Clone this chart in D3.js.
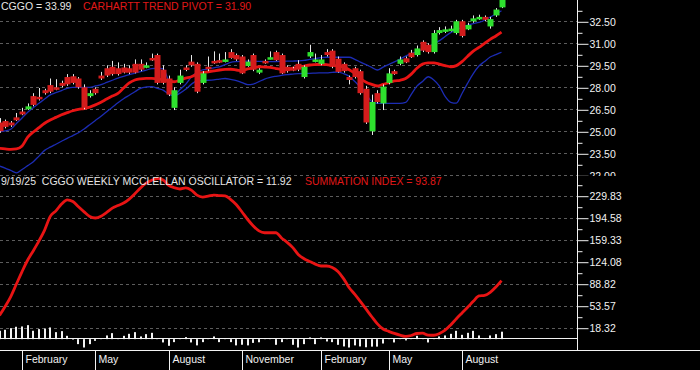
<!DOCTYPE html>
<html>
<head>
<meta charset="utf-8">
<script src="https://cdn.jsdelivr.net/npm/d3@7"></script>
<style>
  body { margin: 0; background: #000; }
  svg { display: block; }
  text { font-family: "Liberation Sans", Arial, sans-serif; font-size: 10.5px; }
</style>
</head>
<body>
<div id="chart"></div>
<script>
"use strict";

// weekly bars, first week is 1/5/24, last is 9/19/25
var firstWeek = "2024-01-05";
var weekCount = 90;

// candles
var openV = [25.6,25.7,25.6,25.95,26.35,26.5,27.4,27.35,27.8,28.15,
             28.0,28.3,28.7,28.75,28.6,28.0,27.4,27.9,28.8,29.3,
             29.4,29.3,29.35,29.3,29.6,29.6,29.4,30.0,30.2,29.2,
             28.6,26.6,28.3,29.35,29.75,29.6,28.3,29.4,29.8,29.85,
             29.75,30.4,30.2,30.1,29.45,30.2,29.0,29.8,29.95,30.4,
             30.2,29.4,29.3,29.6,28.7,30.1,29.75,29.6,30.4,30.5,
             29.95,29.6,28.7,29.3,29.1,27.9,25.0,27.6,26.9,28.3,
             29.1,29.6,29.98,30.36,30.2,31.1,30.9,30.4,31.7,31.8,
             31.85,31.7,32.5,31.95,32.5,32.65,32.8,32.15,32.9,33.45];
var highV = [25.9,25.8,25.7,26.25,26.6,26.9,27.6,27.95,27.9,28.6,
             28.55,28.45,28.9,28.9,28.7,28.2,27.8,28.0,29.05,29.5,
             29.8,29.7,29.6,29.5,29.9,29.9,29.7,30.3,30.3,29.5,
             28.8,28.0,29.2,29.5,30.2,29.7,29.1,30.1,30.45,30.3,
             30.4,30.6,30.3,30.2,29.9,30.3,29.3,29.9,30.45,30.5,
             30.3,29.5,29.4,29.85,29.5,30.9,30.3,30.2,30.6,30.6,
             30.1,29.7,28.8,29.4,29.2,28.1,27.5,27.8,28.2,29.3,
             29.2,30.1,30.1,30.55,30.85,31.2,31.0,31.9,32.1,32.15,
             32.2,32.6,32.6,32.4,32.9,32.95,32.9,32.8,33.4,34.05];
var lowV = [24.9,25.2,25.3,25.7,26.1,26.45,26.7,27.1,27.5,27.6,
            27.8,28.0,28.1,28.2,27.9,26.5,27.3,27.5,28.5,28.7,
            28.8,28.8,28.95,28.9,28.95,29.1,29.3,29.8,28.2,28.2,
            27.4,26.45,28.2,29.1,29.4,27.6,28.2,29.1,29.6,29.65,
            29.7,29.95,29.8,28.9,29.4,29.1,28.9,29.6,29.9,29.8,
            28.9,29.0,29.1,29.1,28.6,30.0,29.7,29.5,30.1,29.3,
            29.0,29.0,28.2,28.6,27.5,25.5,24.75,26.9,26.45,28.2,
            28.85,29.5,29.65,30.0,30.1,30.4,30.3,30.3,31.6,31.7,
            31.8,31.6,31.4,31.9,32.4,32.6,32.5,32.0,32.8,33.4];
var closeV = [25.0,25.3,25.4,25.75,26.15,26.7,26.8,27.2,27.6,27.7,
              27.85,28.1,28.2,28.3,28.0,26.6,27.6,27.6,28.6,28.8,
              28.9,28.9,29.0,29.0,29.0,29.2,29.5,29.9,28.3,28.3,
              27.5,27.8,28.8,29.2,29.5,27.7,28.95,29.25,29.7,29.7,
              29.9,30.0,29.9,28.95,29.75,29.2,29.2,29.7,30.05,29.85,
              28.95,29.1,29.2,29.2,29.4,30.4,29.9,29.9,30.2,29.4,
              29.05,29.1,28.5,28.7,27.6,25.6,27.0,27.0,28.05,28.95,
              28.9,29.9,29.7,30.05,30.65,30.5,30.4,31.7,31.9,31.95,
              32.0,32.5,31.5,32.25,32.7,32.8,32.6,32.65,33.3,33.99];

// carhartt trend pivot (red) and the two blue bands
var pivotV = [23.84,23.8,23.77,23.8,24.0,24.6,24.95,25.25,25.55,25.77,
              25.95,26.13,26.27,26.4,26.5,26.55,26.65,26.8,26.98,27.2,
              27.4,27.58,27.95,28.3,28.5,28.58,28.61,28.61,28.58,28.52,
              28.45,28.38,28.5,28.62,28.72,28.9,29.0,29.06,29.12,29.18,
              29.22,29.23,29.18,29.13,29.25,29.32,29.4,29.38,29.36,29.28,
              29.23,29.23,29.3,29.38,29.45,29.52,29.55,29.57,29.55,29.5,
              29.45,29.38,29.2,28.95,28.6,28.35,28.2,28.09,28.2,28.32,
              28.44,28.48,28.6,28.9,29.3,29.58,29.66,29.67,29.58,29.48,
              29.4,29.48,29.75,30.12,30.47,30.72,31.0,31.27,31.5,31.76];
var upperV = [24.97,25.03,25.14,25.53,25.91,26.3,26.62,26.91,27.2,27.48,
              27.63,27.78,27.93,28.0,28.0,28.0,28.0,28.09,28.18,28.33,
              28.48,28.63,28.75,28.86,28.97,29.07,29.17,29.28,29.3,29.26,
              28.4,27.45,27.85,28.2,28.7,29.0,29.18,29.25,29.33,29.4,
              29.55,29.7,29.75,29.77,29.78,29.78,29.77,29.76,29.75,29.76,
              29.77,29.78,29.79,29.8,29.83,29.9,29.96,30.02,30.05,30.05,
              30.05,30.05,30.05,29.91,29.72,29.54,29.36,29.18,29.37,29.55,
              29.73,29.92,30.12,30.29,30.44,30.59,30.77,30.97,31.18,31.46,
              31.73,31.91,32.08,32.24,32.34,32.42,32.57,32.79,33.0,33.22];
var lowerV = [22.63,22.49,22.33,22.17,22.4,22.66,22.93,23.31,23.7,23.92,
              24.12,24.32,24.52,24.71,24.9,25.16,25.45,25.74,26.03,26.34,
              26.64,26.95,27.22,27.46,27.7,27.93,28.02,28.05,27.93,27.81,
              27.53,27.43,27.6,27.86,28.2,28.44,28.46,28.48,28.51,28.56,
              28.6,28.54,28.46,28.32,28.18,28.22,28.39,28.56,28.67,28.75,
              28.82,28.87,28.9,28.93,28.95,28.95,28.97,28.98,28.99,29.02,
              29.04,28.93,28.75,28.39,27.99,27.54,27.03,26.91,26.91,26.91,
              26.91,26.91,26.97,27.52,28.08,28.4,28.72,28.5,28.08,27.38,
              26.98,26.92,27.58,28.28,28.93,29.45,29.76,30.07,30.23,30.39];

// weekly mcclellan summation index and oscillator
var summationV = [37.9,52.3,68.3,88.3,108.2,126.8,141.7,157.4,174.7,196.7,
                  205.6,216.5,223.3,220.5,212.0,203.9,196.5,194.1,197.0,203.1,
                  210.0,214.1,218.0,224.4,232.9,242.3,249.9,254.5,257.4,255.0,
                  246.3,242.6,240.6,242.3,238.8,230.8,227.7,229.0,230.9,230.1,
                  229.5,223.6,215.4,203.7,191.7,181.3,173.4,170.5,170.5,170.5,
                  162.0,155.1,146.7,135.3,128.9,124.4,120.2,117.2,117.2,114.9,
                  108.4,97.0,82.3,71.7,60.0,48.0,35.9,24.4,16.2,12.5,
                  9.2,6.5,4.4,5.8,9.0,9.5,6.5,6.2,9.0,14.3,
                  22.8,32.7,41.9,51.0,60.6,69.3,70.2,75.0,83.5,93.87];
var oscillatorV = [13.4,15,17.6,19.8,20.3,22.4,13.4,16,17,18.7,
                   11.2,12.8,5.3,-0.8,-8,-13.4,-8,-2.7,1.6,5.9,
                   9.6,1.6,5.3,8.5,11.2,4.3,8,10.1,1.6,-5.3,
                   -10.7,-4.8,0.8,3.2,-5.3,-10,-4.8,0.5,4.3,-4.8,
                   1.6,-4.8,-10,-9,-10,-6,-5,0.3,1.6,-9.1,
                   -4.8,1.6,-9.1,-13.4,-8,2.7,-8,2.7,-3.7,-4.8,
                   -9.1,-11.7,-13.4,-10,-11.7,-13,-12,-12,-7,0.3,
                   -5.3,0.3,-2,0.3,5.3,0.3,-5.3,0.3,4.3,5.9,
                   8.5,13.3,6.9,10.1,13.3,5.9,0.3,5.9,8.0,11.92];

// axis ticks
var priceTicks = [22.00,23.50,25.00,26.50,28.00,29.50,31.00,32.50];
var priceMinor = [22.75,24.25,25.75,27.25,28.75,30.25,31.75,33.25];
var sumTicks = [18.32,53.57,88.82,124.08,159.33,194.58,229.83];
var sumMinor = [35.95,71.20,106.45,141.70,176.95,212.21,247.46];
var xTickDates = ["2024-02-02","2024-05-03","2024-08-02","2024-11-01","2025-02-07","2025-05-02","2025-08-01"];
var xTickLabels = ["February","May","August","November","February","May","August"];

var parseDate = d3.timeParse("%Y-%m-%d");
var weeks = d3.range(weekCount).map(function(i) { return d3.timeDay.offset(parseDate(firstWeek), 7 * i); });

var bars = weeks.map(function(d, i) {
  return {date: d, open: openV[i], high: highV[i], low: lowV[i], close: closeV[i],
          pivot: pivotV[i], upper: upperV[i], lower: lowerV[i],
          sum: summationV[i], osc: oscillatorV[i]};
});

// sizes
var width = 700, height = 370,
    axisX = 577.5,
    topEnd = 176,
    xAxisY = 350.5;

var svg = d3.select("#chart")
  .append("svg")
    .attr("width", width)
    .attr("height", height)
    .style("background", "#000");

var x = d3.scaleTime()
  .domain([weeks[0], weeks[weekCount - 1]])
  .range([-0.5, 501.5]);

var yTop = d3.scaleLinear().domain([22, 32.5]).range([175.3, 21.3]);
var yBot = d3.scaleLinear().domain([18.32, 229.83]).range([327.7, 195.7]);

var defs = svg.append("defs");
defs.append("clipPath").attr("id", "clipTop")
  .append("rect").attr("x", 0).attr("y", 0).attr("width", axisX).attr("height", topEnd);
defs.append("clipPath").attr("id", "clipBot")
  .append("rect").attr("x", 0).attr("y", topEnd).attr("width", axisX).attr("height", xAxisY - topEnd);
defs.append("clipPath").attr("id", "clipTopAxis")
  .append("rect").attr("x", axisX).attr("y", 0).attr("width", width - axisX).attr("height", topEnd);

var snap = function(v) { return Math.round(v) + 0.5; };

// ---------- top panel ----------
var pricePanel = svg.append("g").attr("clip-path", "url(#clipTop)");

pricePanel.selectAll(".grid")
  .data(priceTicks)
  .enter().append("line")
    .attr("x1", 0).attr("x2", axisX)
    .attr("y1", function(d) { return snap(yTop(d)); })
    .attr("y2", function(d) { return snap(yTop(d)); })
    .attr("stroke", "#5c5c5c")
    .attr("stroke-dasharray", "3,3");

var line = function(key, yScale) {
  return d3.line()
    .x(function(d) { return x(d.date); })
    .y(function(d) { return yScale(d[key]); })
    .curve(d3.curveMonotoneX);
};

pricePanel.append("path").datum(bars)
  .attr("fill", "none").attr("stroke", "#1c2cb4").attr("stroke-width", 1.3)
  .attr("d", line("lower", yTop));
pricePanel.append("path").datum(bars)
  .attr("fill", "none").attr("stroke", "#1c2cb4").attr("stroke-width", 1.3)
  .attr("d", line("upper", yTop));
pricePanel.append("path").datum(bars)
  .attr("fill", "none").attr("stroke", "#e81414").attr("stroke-width", 2.8)
  .attr("d", line("pivot", yTop));

var candle = pricePanel.selectAll(".candle")
  .data(bars)
  .enter().append("g");

candle.append("line")
  .attr("x1", function(d) { return Math.round(x(d.date)) + 0.5; })
  .attr("x2", function(d) { return Math.round(x(d.date)) + 0.5; })
  .attr("y1", function(d) { return yTop(d.high); })
  .attr("y2", function(d) { return yTop(d.low); })
  .attr("stroke", "#e8e8e8");

candle.append("rect")
  .attr("x", function(d) { return Math.round(x(d.date)) - 2.5; })
  .attr("width", 6)
  .attr("y", function(d) { return yTop(Math.max(d.open, d.close)); })
  .attr("height", function(d) { return Math.max(2.5, yTop(Math.min(d.open, d.close)) - yTop(Math.max(d.open, d.close))); })
  .attr("fill", function(d) { return d.close >= d.open ? "#2ee02e" : "#d41c1c"; });

svg.append("text")
  .attr("x", 1).attr("y", 9.5)
  .attr("fill", "#e6e6e6")
  .text("CGGO = 33.99");
svg.append("text")
  .attr("x", 83).attr("y", 9.5)
  .attr("fill", "#e01818")
  .text("CARHARTT TREND PIVOT = 31.90");

// ---------- bottom panel ----------
var oscPanel = svg.append("g").attr("clip-path", "url(#clipBot)");

oscPanel.selectAll(".grid")
  .data(sumTicks)
  .enter().append("line")
    .attr("x1", 0).attr("x2", axisX)
    .attr("y1", function(d) { return snap(yBot(d)); })
    .attr("y2", function(d) { return snap(yBot(d)); })
    .attr("stroke", "#5c5c5c")
    .attr("stroke-dasharray", "3,3");

oscPanel.selectAll(".osc")
  .data(bars)
  .enter().append("rect")
    .attr("x", function(d) { return Math.round(x(d.date)) - 1; })
    .attr("width", 2)
    .attr("y", function(d) { return Math.min(yBot(0), yBot(d.osc)); })
    .attr("height", function(d) { return Math.abs(yBot(d.osc) - yBot(0)); })
    .attr("fill", "#f2f2f2");

oscPanel.append("line")
  .attr("x1", 0).attr("x2", axisX)
  .attr("y1", snap(yBot(0)) - 1).attr("y2", snap(yBot(0)) - 1)
  .attr("stroke", "#f2f2f2");

oscPanel.append("path").datum(bars)
  .attr("fill", "none").attr("stroke", "#e81414").attr("stroke-width", 2.8)
  .attr("d", line("sum", yBot));

svg.append("text")
  .attr("x", 1).attr("y", 185)
  .attr("fill", "#e6e6e6")
  .text("9/19/25\u00a0\u00a0CGGO WEEKLY MCCLELLAN OSCILLATOR = 11.92");
svg.append("text")
  .attr("x", 305).attr("y", 185)
  .attr("fill", "#e01818")
  .text("SUMMATION INDEX = 93.87");

// ---------- right axes ----------
function styleAxis(g) {
  g.select(".domain").remove();
  g.selectAll(".tick line").attr("stroke", "#f2f2f2");
  g.selectAll(".tick text")
    .attr("fill", "#f2f2f2")
    .style("font-family", "\"Liberation Sans\", Arial, sans-serif")
    .style("font-size", "10.5px");
}

var priceAxis = svg.append("g").attr("clip-path", "url(#clipTopAxis)");
priceAxis.append("g")
  .attr("transform", "translate(" + axisX + ",0.5)")
  .call(d3.axisRight(yTop).tickValues(priceTicks).tickSize(11).tickPadding(1).tickFormat(d3.format(".2f")))
  .call(styleAxis);
priceAxis.append("g")
  .attr("transform", "translate(" + axisX + ",0.5)")
  .call(d3.axisRight(yTop).tickValues(priceMinor).tickSize(5).tickFormat(""))
  .call(styleAxis);

svg.append("g")
  .attr("transform", "translate(" + axisX + ",0.5)")
  .call(d3.axisRight(yBot).tickValues(sumTicks).tickSize(11).tickPadding(1).tickFormat(d3.format(".2f")))
  .call(styleAxis);
svg.append("g")
  .attr("transform", "translate(" + axisX + ",0.5)")
  .call(d3.axisRight(yBot).tickValues(sumMinor).tickSize(5).tickFormat(""))
  .call(styleAxis);

svg.append("line")
  .attr("x1", axisX).attr("x2", axisX)
  .attr("y1", 0).attr("y2", xAxisY)
  .attr("stroke", "#f2f2f2");

// ---------- time axis ----------
svg.append("line")
  .attr("x1", 0).attr("x2", width)
  .attr("y1", xAxisY).attr("y2", xAxisY)
  .attr("stroke", "#f2f2f2");

var monthTick = svg.selectAll(".month")
  .data(xTickDates)
  .enter().append("g")
    .attr("transform", function(d) { return "translate(" + snap(x(parseDate(d))) + ",0)"; });

monthTick.append("line")
  .attr("y1", xAxisY).attr("y2", height)
  .attr("stroke", "#f2f2f2");

monthTick.append("text")
  .attr("x", 3).attr("y", 362.5)
  .attr("fill", "#f2f2f2")
  .text(function(d, i) { return xTickLabels[i]; });
</script>
</body>
</html>
